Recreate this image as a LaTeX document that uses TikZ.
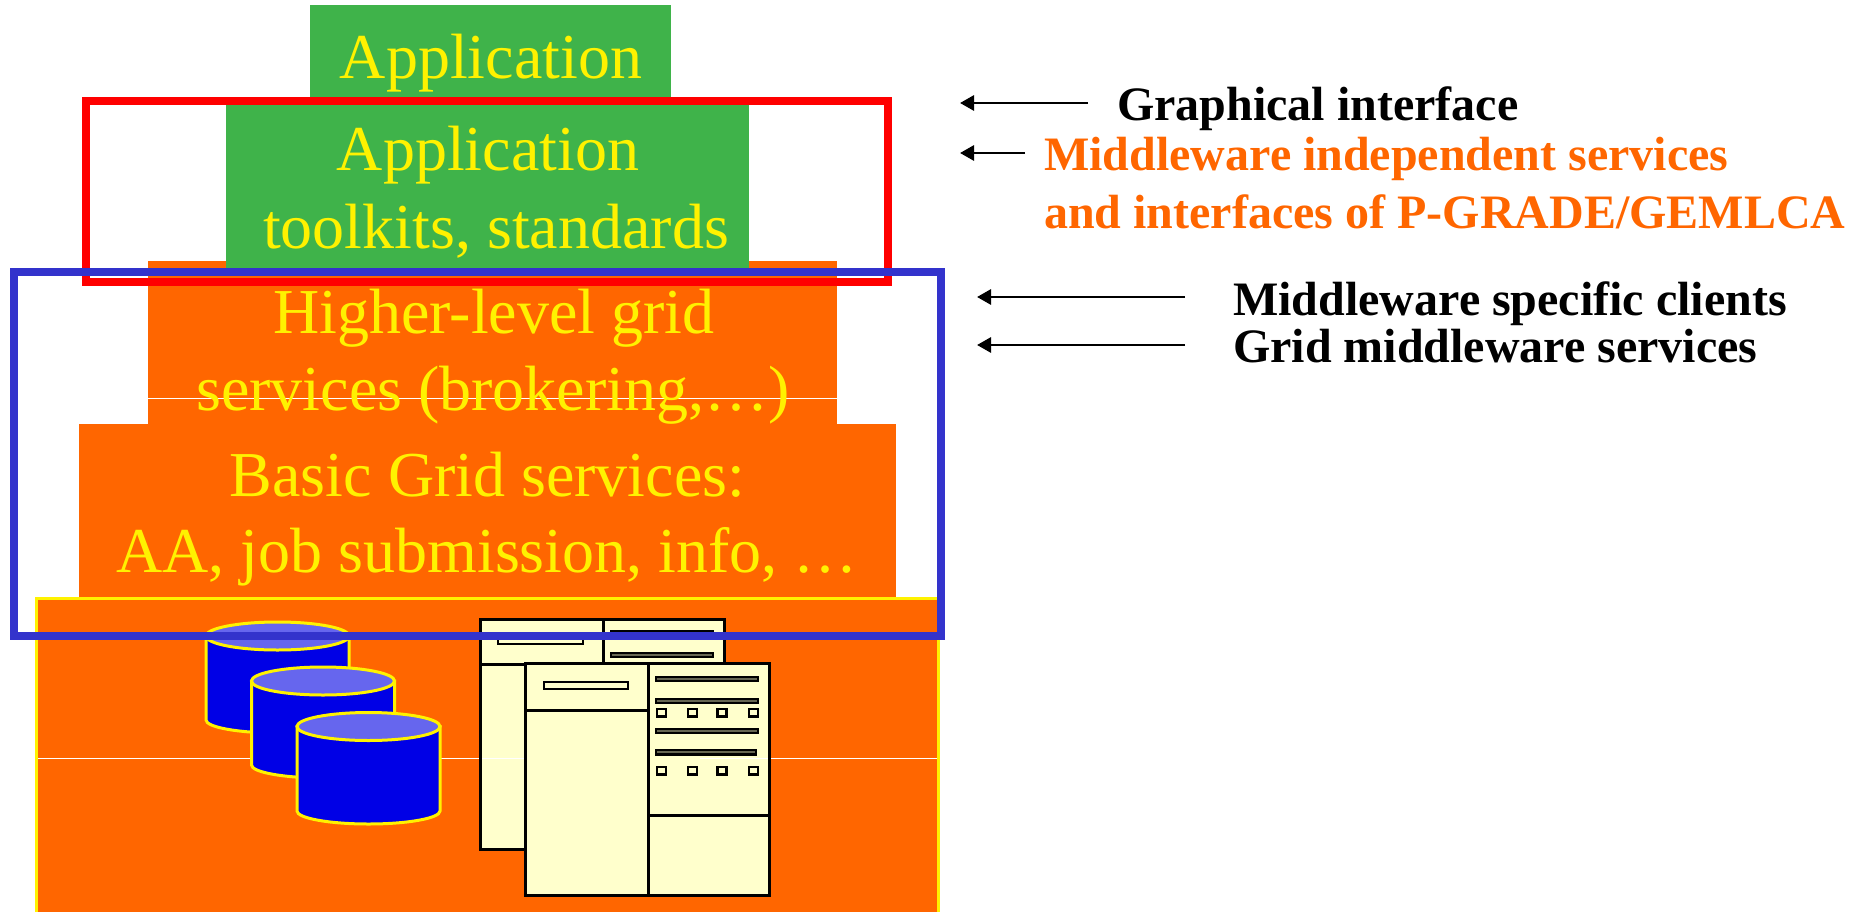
\documentclass[tikz,border=0pt]{standalone}
\usepackage{fontspec}
\setmainfont{Liberation Serif}
\usetikzlibrary{arrows.meta}
\definecolor{gOrange}{HTML}{FF6600}
\definecolor{gGreen}{HTML}{3FB34A}
\definecolor{gBlue}{HTML}{3333CC}
\definecolor{gDisk}{HTML}{0000E6}
\definecolor{gDiskTop}{HTML}{6666EE}
\definecolor{gCream}{HTML}{FFFFCC}
\tikzset{
  layertext/.style={anchor=base,inner sep=0pt,text=yellow,font=\fontsize{64}{70}\selectfont},
  sidetext/.style={anchor=base west,inner sep=0pt,text=black,font=\fontsize{48}{52}\selectfont\bfseries},
  sideorange/.style={sidetext,text=gOrange},
  pointer/.style={draw=black,line width=2.8pt,-{Triangle[length=14pt,width=15pt]}},
  disk/.style={draw=yellow,line width=3pt,fill=gDisk},
  disktop/.style={draw=yellow,line width=3pt,fill=gDiskTop},
  srv/.style={draw=black,line width=3pt,fill=gCream},
  srvline/.style={draw=black,line width=3pt},
  srvbar/.style={draw=black,line width=2.4pt,fill=gCream!40!black},
  srvsmall/.style={draw=black,line width=2.6pt,fill=gCream},
  hair/.style={draw=white,line width=0.9pt}
}
\newcommand{\gdisk}[3]{% cx, top centre y, side end y
  \path[disk] (#1-71.5,#2) -- (#1-71.5,#3) arc[start angle=180,end angle=0,x radius=71.5,y radius=13] -- (#1+71.5,#2) -- cycle;
  \path[disktop] (#1,#2) ellipse[x radius=71.5,y radius=14];
}
\begin{document}
\begin{tikzpicture}[x=1pt,y=-1pt]
\useasboundingbox (0,0) rectangle (1859,912);
\clip (0,0) rectangle (1859,912);
% layers
\fill[gGreen] (310,5) rectangle (671,100);
\fill[gOrange] (148,261) rectangle (837,424);
\fill[gGreen] (226,100) rectangle (749,270);
\fill[gOrange] (79,424) rectangle (896,598);
\draw[hair] (148,398) -- (837,398);
\draw[draw=yellow,line width=3pt,fill=gOrange] (36.5,598.5) rectangle (938.5,920);
\draw[hair] (38,758) -- (937,758);
% disks
\gdisk{277.5}{636}{720}
\gdisk{323}{681}{765}
\gdisk{368.5}{726.5}{811}
% back server
\path[srv] (480.5,619) rectangle (724,849);
\draw[srvline] (603,619) -- (603,664);
\draw[srvline] (480.5,664) -- (603,664);
\path[srvsmall] (498,637) rectangle (583,644);
\path[srvbar] (611,631) rectangle (713,636);
\path[srvbar] (611,653) rectangle (713,657);
% front server
\path[srv] (525.5,663.5) rectangle (769.5,895);
\draw[srvline] (648.5,663.5) -- (648.5,895);
\draw[srvline] (525.5,710) -- (648.5,710);
\draw[srvline] (648.5,815) -- (769.5,815);
\path[srvsmall] (544,682) rectangle (628,689);
\path[srvbar] (656,677) rectangle (758,681);
\path[srvbar] (656,699) rectangle (758,703);
\path[srvbar] (656,729) rectangle (758,733);
\path[srvbar] (656,750) rectangle (756,754.5);
\foreach \sx in {657,688,717.5,749}{
  \path[srvsmall] (\sx,709) rectangle ++(9,7.5);
  \path[srvsmall] (\sx,767) rectangle ++(9,7.5);
}
\draw[hair] (482,758) -- (523.5,758);
\draw[hair] (700,758) -- (768,758);
% frames
\draw[red,line width=8pt] (86,101) rectangle (888,282);
\draw[gBlue,line width=8pt] (14,272) rectangle (941,636);
% layer texts
\node[layertext] (app) at (491,78.5) {Application};
\node[layertext] (tool1) at (488,171) {Application};
\node[layertext] (tool2) at (496,248) {toolkits, standards};
\node[layertext] (high1) at (494,333.5) {Higher-level grid};
\node[layertext] (high2) at (493,410) {services (brokering,…)};
\node[layertext] (basic1) at (487.5,496) {Basic Grid services:};
\node[layertext] (basic2) at (487,572.5) {AA, job submission, info, …};
% side texts
\node[sidetext] (gui) at (1117,121) {Graphical interface};
\node[sideorange] (mis1) at (1044,171) {Middleware independent services};
\node[sideorange] (mis2) at (1044,228) {and interfaces of P-GRADE/GEMLCA};
\node[sidetext] (msc) at (1233,315) {Middleware specific clients};
\node[sidetext] (gms) at (1233,362) {Grid middleware services};
% pointers
\coordinate (gt) at (1088,103); \coordinate (gh) at (960,103);
\coordinate (mt) at (1025,153); \coordinate (mh) at (960,153);
\coordinate (ct) at (1185,297); \coordinate (ch) at (977,297);
\coordinate (st) at (1185,345); \coordinate (sh) at (977,345);
\draw[pointer] (gt) -- (gh);
\draw[pointer] (mt) -- (mh);
\draw[pointer] (ct) -- (ch);
\draw[pointer] (st) -- (sh);
\end{tikzpicture}
\end{document}
